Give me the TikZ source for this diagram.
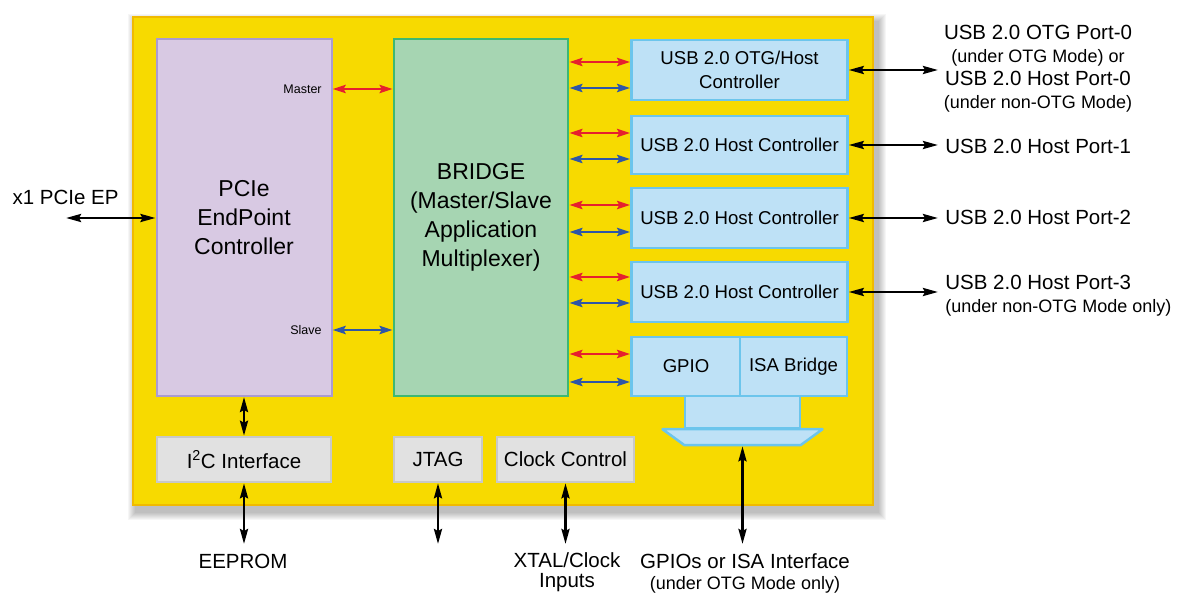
\documentclass[tikz,border=0pt]{standalone}
\usepackage{fontspec}
\setmainfont{Liberation Sans}
\usetikzlibrary{calc}
\usetikzlibrary{arrows.meta}
\usetikzlibrary{backgrounds}
\definecolor{chipyellow}{RGB}{247,218,0}
\definecolor{chipedge}{RGB}{240,186,0}
\definecolor{pcielilac}{RGB}{216,201,227}
\definecolor{pcieedge}{RGB}{170,155,208}
\definecolor{bridgegreen}{RGB}{166,213,178}
\definecolor{bridgeedge}{RGB}{62,184,114}
\definecolor{usbblue}{RGB}{190,225,246}
\definecolor{usbedge}{RGB}{108,197,236}
\definecolor{ifgray}{RGB}{225,225,225}
\definecolor{ifedge}{RGB}{200,200,200}
\definecolor{busred}{RGB}{230,32,46}
\definecolor{busblue}{RGB}{47,86,166}
\newcommand{\blockfont}{\fontsize{23}{29}\selectfont}
\newcommand{\unitfont}{\fontsize{18.6}{23.4}\selectfont}
\newcommand{\portfont}{\fontsize{20.5}{24}\selectfont}
\newcommand{\notefont}{\fontsize{18}{23}\selectfont}
\newcommand{\pinfont}{\fontsize{12.5}{15}\selectfont}
\tikzset{every picture/.style={line width=0.75pt}}
\tikzset{
  chipbox/.style={draw=chipedge, fill=chipyellow, line width=2pt},
  pciebox/.style={draw=pcieedge, fill=pcielilac, line width=2pt, align=center, font=\blockfont},
  bridgebox/.style={draw=bridgeedge, fill=bridgegreen, line width=2.5pt, align=center, font=\blockfont},
  usbbox/.style={draw=usbedge, fill=usbblue, line width=2.5pt, align=center, font=\unitfont, inner sep=1pt, minimum width=216pt},
  ifbox/.style={draw=ifedge, fill=ifgray, line width=2.5pt, font=\portfont, inner sep=1pt, minimum height=45pt},
  bustip/.style={{Stealth[length=13pt,width=8pt,inset=2pt]}-{Stealth[length=13pt,width=8pt,inset=2pt]}},
  redbus/.style={draw=busred, line width=2.8pt, bustip},
  bluebus/.style={draw=busblue, line width=2.8pt, bustip},
  extlink/.style={draw=black, line width=2.6pt, {Stealth[length=15pt,width=8pt,inset=2pt]}-{Stealth[length=15pt,width=8pt,inset=2pt]}},
  porttext/.style={font=\portfont, inner sep=0pt},
}
\begin{document}
\begin{tikzpicture}[x=1pt,y=1pt,yscale=-1]
\useasboundingbox (0,0) rectangle (1179,593);

%Shape: Chip
\node[chipbox, minimum width=740pt, minimum height=488pt] (chip) at (503,261) {};
\begin{scope}[on background layer]
\foreach \i in {1,...,8}
  \fill[black, opacity=0.035] ($(chip.north west)+(4-\i,6-\i)$) rectangle ($(chip.south east)+(4+\i,6+\i)$);
\end{scope}

%Shape: Blocks
\node[pciebox, minimum width=175pt, minimum height=357pt] (pcie) at (244,217.5) {PCIe\\EndPoint\\Controller};
\node[bridgebox, minimum width=174pt, minimum height=357pt] (bridge) at (481,217.5) {BRIDGE\\(Master/Slave\\Application\\Multiplexer)};
\node[usbbox, minimum height=60pt] (usb0) at (739.5,70) {USB 2.0 OTG/Host\\Controller};
\node[usbbox, minimum height=58pt] (usb1) at (739.5,145) {USB 2.0 Host Controller};
\node[usbbox, minimum height=60pt] (usb2) at (739.5,218) {USB 2.0 Host Controller};
\node[usbbox, minimum height=60pt] (usb3) at (739.5,292) {USB 2.0 Host Controller};
\node[usbbox, minimum width=115pt, minimum height=32pt] (gpioleg) at (742.5,412) {};
\node[usbbox, minimum width=109pt, minimum height=59pt] (gpio) at (686,366.5) {GPIO};
\node[usbbox, minimum width=107pt, minimum height=59pt] (isa) at (793.5,366.5) {ISA Bridge};
%Shape: Trapezoid
\draw[usbedge, fill=usbblue, line width=2.5pt, line join=round] ($(gpioleg.south)+(-80,0)$) -- ($(gpioleg.south)+(80,0)$) -- ($(gpioleg.south)+(58,16)$) -- ($(gpioleg.south)+(-58,16)$) -- cycle;
\coordinate (gpiobus) at ($(gpioleg.south)+(0,17)$);
\node[ifbox, minimum width=174pt] (i2c) at (244,459.5) {I\textsuperscript{2}C Interface};
\node[ifbox, minimum width=88pt] (jtag) at (438,459.5) {JTAG};
\node[ifbox, minimum width=137pt] (clk) at (565.5,459.5) {Clock Control};

% Text Node
\node[font=\pinfont, anchor=east, inner sep=0pt] (master) at (322,89) {Master};
% Text Node
\node[font=\pinfont, anchor=east, inner sep=0pt] (slave) at (322,330) {Slave};
% Text Node
\node[porttext] (pcieep) at (65.5,197) {x1 PCIe EP};
% Text Node
\node[porttext, align=center, font=\notefont] (port0) at (1038,68.5) {{\portfont USB 2.0 OTG Port-0}\\(under OTG Mode) or\\{\portfont USB 2.0 Host Port-0}\\(under non-OTG Mode)};
% Text Node
\node[porttext, anchor=west] (port1) at (945,146) {USB 2.0 Host Port-1};
% Text Node
\node[porttext, anchor=west] (port2) at (945,217) {USB 2.0 Host Port-2};
% Text Node
\node[porttext, anchor=west, align=left, font=\notefont] (port3) at (945,295.5) {{\portfont USB 2.0 Host Port-3}\\(under non-OTG Mode only)};
% Text Node
\node[porttext, anchor=north] (eeprom) at (243,553.5) {EEPROM};
% Text Node
\node[porttext, anchor=north, align=center, font=\fontsize{20.5}{20.5}\selectfont] (xtal) at (567,552) {XTAL/Clock\\Inputs};
% Text Node
\node[porttext, anchor=north, align=center, font=\fontsize{18}{21}\selectfont] (gpioio) at (745,553) {{\portfont GPIOs or ISA Interface}\\(under OTG Mode only)};

%Straight Lines
\draw[redbus] (pcie.east |- master.east) -- (bridge.west |- master.east);
\draw[bluebus] (pcie.east |- slave.east) -- (bridge.west |- slave.east);
\foreach \unit/\r/\b in {usb0/-8/18, usb1/-12/14, usb2/-13/14, usb3/-15/11, gpio/-12.5/15.5} {
  \draw[redbus] ($(bridge.east |- \unit.west)+(0,\r)$) -- ($(\unit.west)+(0,\r)$);
  \draw[bluebus] ($(bridge.east |- \unit.west)+(0,\b)$) -- ($(\unit.west)+(0,\b)$);
}
\coordinate (portline) at (938,0);
\foreach \unit in {usb0,usb1,usb2,usb3}
  \draw[extlink] (\unit.east) -- (\unit.east -| portline);
\coordinate (eplink) at (66,218);
\draw[extlink] (eplink) -- (pcie.west |- eplink);
\coordinate (pinline) at (0,544);
\draw[extlink] (pcie.south) -- (i2c.north);
\draw[extlink] (i2c.south) -- (i2c.south |- pinline);
\draw[extlink] (jtag.south) -- (jtag.south |- pinline);
\draw[extlink] (clk.south) -- (clk.south |- pinline);
\draw[extlink] (gpiobus) -- (gpiobus |- pinline);

\end{tikzpicture}
\end{document}
